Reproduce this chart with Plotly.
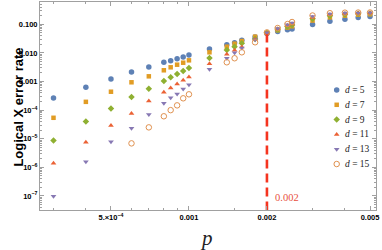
import plotly.graph_objects as go

# ---------------- data ----------------
p_values = [3e-4, 4e-4, 5e-4, 6e-4, 7e-4, 8e-4, 8.5e-4, 9e-4, 9.5e-4, 1e-3,
            1.2e-3, 1.4e-3, 1.5e-3, 1.6e-3, 1.8e-3, 2e-3, 2.2e-3, 2.4e-3,
            2.5e-3, 3e-3, 3.5e-3, 4e-3, 4.5e-3, 5e-3]

d5 = [2.65e-4, 6.3e-4, 1.22e-3, 2.15e-3, 3.2e-3, 4.7e-3, 5.3e-3, 6.3e-3, 7.2e-3, 8.4e-3,
      1.37e-2, 1.94e-2, 2.28e-2, 2.76e-2, 3.6e-2, 0.048, 0.056, 0.065, 0.068, 0.098,
      0.127, 0.150, 0.173, 0.187]
d7 = [5.4e-5, 1.95e-4, 4.4e-4, 9.4e-4, 1.52e-3, 2.47e-3, 3.14e-3, 3.87e-3, 4.54e-3, 5.5e-3,
      1.05e-2, 1.65e-2, 2.1e-2, 2.6e-2, 3.7e-2, 0.050, 0.062, 0.077, 0.085, 0.135,
      0.175, 0.20, 0.215, 0.225]
d9 = [8.6e-6, 3.98e-5, 1.14e-4, 2.87e-4, 5.6e-4, 1.04e-3, 1.4e-3, 1.83e-3, 2.33e-3, 2.96e-3,
      6.6e-3, 1.26e-2, 1.65e-2, 2.17e-2, 3.06e-2, 0.050, 0.065, 0.083, 0.095, 0.155,
      0.198, 0.22, 0.232, 0.238]
d11 = [1.38e-6, 7.5e-6, 2.9e-5, 7.7e-5, 2.08e-4, 4.2e-4, 5.9e-4, 8.2e-4, 1.1e-3, 1.44e-3,
       4.2e-3, 8.9e-3, 1.23e-2, 1.6e-2, 3.0e-2, 0.050, 0.068, 0.090, 0.103, 0.172,
       0.215, 0.235, 0.243, 0.246]
d13 = [9.8e-8, 1.58e-6, 7.85e-6, 2.31e-5, 7.1e-5, 1.73e-4, 2.72e-4, 3.66e-4, 5.5e-4, 7.7e-4,
       2.67e-3, 6.5e-3, 1.02e-2, 1.48e-2, 2.9e-2, 0.051, 0.071, 0.096, 0.112, 0.188,
       0.23, 0.247, 0.25, 0.252]
d15 = [None, None, None, 6.9e-6, 2.5e-5, 6.1e-5, 1.0e-4, 1.47e-4, 2.59e-4, 3.57e-4,
       None, 4.7e-3, 6.5e-3, 1.05e-2, 2.35e-2, 0.052, 0.074, 0.102, 0.12, 0.203,
       0.244, 0.255, 0.257, 0.258]

distances = [5, 7, 9, 11, 13, 15]
series = [d5, d7, d9, d11, d13, d15]

threshold = 0.002
threshold_label = "0.002"

x_tick_vals = [5e-4, 1e-3, 2e-3, 5e-3]
x_tick_text = ["5.×10<sup>−4</sup>", "0.001", "0.002", "0.005"]
x_minor_vals = [3e-4, 4e-4, 6e-4, 7e-4, 8e-4, 9e-4, 1.5e-3, 3e-3, 4e-3]
y_tick_vals = [1e-7, 1e-6, 1e-5, 1e-4, 1e-3, 1e-2, 1e-1]
y_tick_text = ["10<sup>−7</sup>", "10<sup>−6</sup>", "10<sup>−5</sup>", "10<sup>−4</sup>",
               "0.001", "0.010", "0.100"]

# ---------------- style ----------------
colors = ["#5E81B5", "#E19C24", "#8FB032", "#EB6235", "#8778B3", "#E0914F"]
symbols = ["circle", "square", "diamond", "triangle-up", "triangle-down", "circle-open"]
sizes = [5.5, 4.5, 5, 5, 5, 5.5]
frame_col = "#a0a0a0"

y_minor_vals = [m * 10.0 ** e for e in range(-8, 1) for m in range(2, 10)]

fig = go.Figure()

for d, ys, c, s, sz in zip(distances, series, colors, symbols, sizes):
    fig.add_trace(go.Scatter(
        x=p_values, y=ys, mode="markers", name=f"d = {d}",
        marker=dict(symbol=s, size=sz, color=c,
                    line=dict(width=1 if s.endswith("open") else 0, color=c)),
        showlegend=False, cliponaxis=True))

# threshold dashed line
fig.add_trace(go.Scatter(
    x=[threshold, threshold], y=[1e-8, 0.045], mode="lines",
    line=dict(color="#f5341f", width=2.6, dash="9px,5px"),
    showlegend=False, hoverinfo="skip"))

# custom legend on an overlay axis
leg_x = 0.883
leg_y0 = 0.577
leg_dy = 0.0712
for i, (d, c, s, sz) in enumerate(zip(distances, colors, symbols, sizes)):
    yy = leg_y0 - i * leg_dy
    fig.add_trace(go.Scatter(
        x=[leg_x], y=[yy], xaxis="x2", yaxis="y2", mode="markers",
        marker=dict(symbol=s, size=sz, color=c,
                    line=dict(width=1 if s.endswith("open") else 0, color=c)),
        showlegend=False, hoverinfo="skip"))
    fig.add_annotation(
        x=0.902, y=yy, xref="paper", yref="paper", xanchor="left", yanchor="middle",
        text=f"<i>d</i> = {d}", showarrow=False,
        font=dict(family="Liberation Serif", size=9.5, color="#222"))

axis_common = dict(
    type="log", showgrid=False, zeroline=False, showline=True, linecolor=frame_col,
    linewidth=1, mirror="ticks", ticks="inside", tickcolor=frame_col, ticklen=4,
    tickwidth=1, tickmode="array",
    tickfont=dict(family="Liberation Sans", size=7.5, color="#000", weight="bold"),
)

fig.update_layout(
    width=382, height=250,
    margin=dict(l=40, r=6, t=2, b=40, autoexpand=False),
    paper_bgcolor="white", plot_bgcolor="white",
    xaxis=dict(axis_common, range=[-3.575, -2.278], tickvals=x_tick_vals, ticktext=x_tick_text,
               minor=dict(tickmode="array", tickvals=x_minor_vals, ticks="inside", ticklen=2,
                          tickcolor=frame_col)),
    yaxis=dict(axis_common, range=[-7.49, -0.221], tickvals=y_tick_vals, ticktext=y_tick_text,
               minor=dict(tickmode="array", tickvals=y_minor_vals, ticks="inside", ticklen=2,
                          tickcolor=frame_col)),
    xaxis2=dict(overlaying="x", range=[0, 1], visible=False, fixedrange=True),
    yaxis2=dict(overlaying="y", range=[0, 1], visible=False, fixedrange=True),
    showlegend=False,
)

# axis titles
fig.add_annotation(x=-0.095, y=0.495, xref="paper", yref="paper", textangle=-90,
                   text="<b>Logical X error rate</b>", showarrow=False,
                   font=dict(family="Liberation Sans", size=13, color="#000"))
fig.add_annotation(x=0.497, y=-0.133, xref="paper", yref="paper", yanchor="middle",
                   text="<i>p</i>", showarrow=False,
                   font=dict(family="Liberation Serif", size=21, color="#222"))
# threshold label
fig.add_annotation(x=0.6926, y=0.059, xref="paper", yref="paper", xanchor="left",
                   yanchor="middle", text=threshold_label, showarrow=False,
                   font=dict(family="Liberation Serif", size=10.5, color="#e8503e"))

fig.write_html("out.html",
               config={"displayModeBar": False},
               post_script="document.body.style.margin='0px';"
                           "document.body.style.overflow='hidden';")
